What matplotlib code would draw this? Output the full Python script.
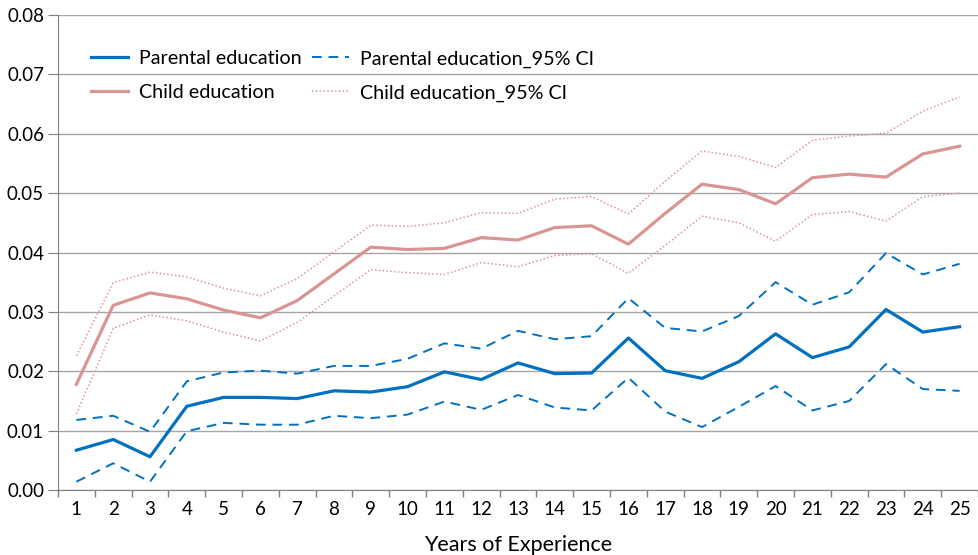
import matplotlib
matplotlib.use("Agg")
import matplotlib.pyplot as plt
from matplotlib.ticker import FixedLocator

years = list(range(1, 26))
parental = [0.0067, 0.0085, 0.0056, 0.0141, 0.0156, 0.0156, 0.0154, 0.0167, 0.0165, 0.0174,
            0.0199, 0.0186, 0.0214, 0.0196, 0.0197, 0.0256, 0.0201, 0.0188, 0.0216, 0.0263,
            0.0223, 0.0241, 0.0304, 0.0266, 0.0275]
parental_hi = [0.0118, 0.0125, 0.0098, 0.0183, 0.0198, 0.0201, 0.0196, 0.0209, 0.0209, 0.0221,
               0.0247, 0.0238, 0.0268, 0.0254, 0.0259, 0.0323, 0.0273, 0.0267, 0.0293, 0.0350,
               0.0312, 0.0333, 0.0399, 0.0363, 0.0381]
parental_lo = [0.0014, 0.0045, 0.0014, 0.0099, 0.0113, 0.0110, 0.0110, 0.0125, 0.0121, 0.0127,
               0.0149, 0.0135, 0.0160, 0.0139, 0.0134, 0.0189, 0.0132, 0.0106, 0.0140, 0.0175,
               0.0134, 0.0150, 0.0212, 0.0170, 0.0167]
child = [0.0178, 0.0311, 0.0332, 0.0322, 0.0303, 0.0290, 0.0319, 0.0364, 0.0409, 0.0405,
         0.0407, 0.0425, 0.0421, 0.0442, 0.0445, 0.0414, 0.0466, 0.0515, 0.0506, 0.0482,
         0.0526, 0.0532, 0.0527, 0.0566, 0.0579]
child_hi = [0.0226, 0.0349, 0.0367, 0.0359, 0.0340, 0.0327, 0.0356, 0.0401, 0.0446, 0.0444,
            0.0450, 0.0467, 0.0466, 0.0490, 0.0494, 0.0465, 0.0520, 0.0571, 0.0562, 0.0543,
            0.0589, 0.0596, 0.0601, 0.0638, 0.0662]
child_lo = [0.0128, 0.0272, 0.0295, 0.0285, 0.0266, 0.0251, 0.0282, 0.0327, 0.0371, 0.0366,
            0.0363, 0.0383, 0.0376, 0.0395, 0.0398, 0.0365, 0.0412, 0.0461, 0.0450, 0.0419,
            0.0464, 0.0469, 0.0453, 0.0494, 0.0500]
yticks = [0.00, 0.01, 0.02, 0.03, 0.04, 0.05, 0.06, 0.07, 0.08]

plt.rcParams['font.family'] = ['Lato', 'DejaVu Sans']

BLUE = '#0070C0'
PINK = '#D99594'
GRID = '#A6A6A6'

fig = plt.figure(figsize=(9.79, 5.55), dpi=100)
ax = fig.add_axes([58/979, 1-490/555, (978-58)/979, (490-15)/555])

l1, = ax.plot(years, parental, color=BLUE, lw=2.3, label='Parental education')
l2, = ax.plot(years, parental_hi, color=BLUE, lw=1.4, ls=(0, (5, 3.5)), label='Parental education_95% CI')
ax.plot(years, parental_lo, color=BLUE, lw=1.4, ls=(0, (5, 3.5)))
l3, = ax.plot(years, child, color=PINK, lw=2.3, label='Child education')
l4, = ax.plot(years, child_hi, color=PINK, lw=1.1, ls=(0, (1, 1.5)), label='Child education_95% CI')
ax.plot(years, child_lo, color=PINK, lw=1.1, ls=(0, (1, 1.5)))

ax.set_xlim(0.5, 25.5)
ax.set_ylim(0, 0.08)
ax.set_yticks(yticks)
ax.set_yticklabels([f'{v:.2f}' for v in yticks])
ax.set_xticks(years)
ax.set_xticklabels([str(y) for y in years])
ax.xaxis.set_minor_locator(FixedLocator([y + 0.5 for y in range(0, 26)]))
ax.tick_params(axis='x', which='major', length=0, labelsize=13.5, pad=8)
ax.tick_params(axis='x', which='minor', length=5, color='#808080', width=1)
ax.tick_params(axis='y', which='major', length=7, color='#808080', labelsize=13.5, pad=3)

ax.yaxis.grid(True, color=GRID, lw=1)
ax.set_axisbelow(True)
for s in ['top', 'right']:
    ax.spines[s].set_visible(False)
ax.spines['left'].set_color('#808080')
ax.spines['bottom'].set_color('#808080')

ax.set_xlabel('Years of Experience', fontsize=15.5, labelpad=12)

ax.legend(handles=[l1, l3, l2, l4], ncol=2, frameon=False, loc='upper left',
          bbox_to_anchor=(0.017, 0.963), fontsize=14.2, handlelength=1.85,
          columnspacing=0.55, labelspacing=0.85, handletextpad=0.55)

fig.savefig('out.png', dpi=100)
